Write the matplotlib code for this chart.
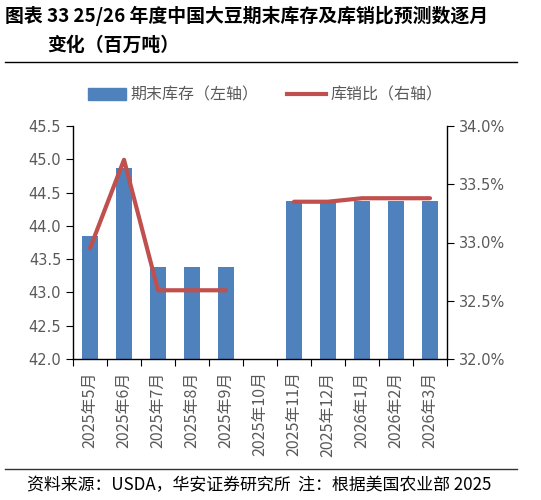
import numpy as np
import matplotlib
matplotlib.use("Agg")
import matplotlib.pyplot as plt
from matplotlib.lines import Line2D
from matplotlib.patches import Patch

plt.rcParams['font.family'] = ['Noto Sans CJK SC', 'DejaVu Sans']

categories = ["2025年5月", "2025年6月", "2025年7月", "2025年8月", "2025年9月", "2025年10月",
              "2025年11月", "2025年12月", "2026年1月", "2026年2月", "2026年3月"]
stocks = [43.85, 44.87, 43.38, 43.38, 43.38, np.nan, 44.38, 44.38, 44.38, 44.38, 44.38]
ratio = [32.95, 33.71, 32.59, 32.59, 32.59, np.nan, 33.35, 33.35, 33.38, 33.38, 33.38]
left_ticks = [42.0, 42.5, 43.0, 43.5, 44.0, 44.5, 45.0, 45.5]
right_ticks = [32.0, 32.5, 33.0, 33.5, 34.0]

W, H = 541, 500
fig = plt.figure(figsize=(W / 100, H / 100), dpi=100)
ax = fig.add_axes([73 / W, 1 - 359 / H, (447 - 73) / W, (359 - 126) / H])
ax2 = ax.twinx()

grey = "#595959"
x = np.arange(len(categories))
ax.bar(x, stocks, width=0.49, color="#4F81BD", zorder=2)
ax2.plot(x, ratio, color="#C0504D", lw=3, solid_capstyle="round", zorder=3)

ax.set_xlim(-0.5, len(categories) - 0.5)
ax.set_ylim(42.0, 45.5)
ax.set_yticks(left_ticks)
ax.set_yticklabels([f"{v:.1f}" for v in left_ticks], color=grey, fontsize=10.5,
                   family=['DejaVu Sans'])
ax2.set_ylim(32.0, 34.0)
ax2.set_yticks(right_ticks)
ax2.set_yticklabels([f"{v:.1f}%" for v in right_ticks], color=grey, fontsize=10.5,
                    family=['DejaVu Sans'])

ax.set_xticks(np.arange(len(categories) + 1) - 0.5)
ax.set_xticklabels([])
ax.set_xticks(x, minor=True)
ax.set_xticklabels(categories, minor=True, rotation=90, color=grey, fontsize=11.5)
ax.tick_params(axis="x", which="minor", length=0, pad=9)
ax.tick_params(axis="x", which="major", length=5, direction="out")
ax.tick_params(axis="y", length=5, direction="out")
ax2.tick_params(axis="y", length=5, direction="out")

for a in (ax, ax2):
    a.spines["top"].set_visible(False)
    for s in ("left", "right", "bottom"):
        a.spines[s].set_color("black")
        a.spines[s].set_linewidth(1)
ax.spines["right"].set_visible(False)
ax2.spines["left"].set_visible(False)
ax2.spines["bottom"].set_visible(False)

# Title
fig.text(5 / W, 1 - 16 / H, "图表 33 25/26 年度中国大豆期末库存及库销比预测数逐月",
         fontsize=13.6, fontweight="bold", va="center", ha="left")
fig.text(47 / W, 1 - 45 / H, "变化（百万吨）", fontsize=13.6, fontweight="bold",
         va="center", ha="left")
fig.add_artist(Line2D([5 / W, 517 / W], [1 - 62 / H, 1 - 62 / H], color="black", lw=1))
fig.add_artist(Line2D([5 / W, 517 / W], [1 - 469 / H, 1 - 469 / H], color="#333333", lw=1))

handles = [Patch(color="#4F81BD"), Line2D([0], [0], color="#C0504D", lw=3)]
fig.legend(handles, ["期末库存（左轴）", "库销比（右轴）"], loc="center",
           bbox_to_anchor=(0.49, 1 - 95 / H), ncol=2, frameon=False, fontsize=11.5,
           labelcolor=grey, handlelength=2.4, columnspacing=1.8, handletextpad=0.3)

fig.text(27 / W, 1 - 485 / H, "资料来源：USDA，华安证券研究所  注：根据美国农业部 2025",
         fontsize=12.2, va="center", ha="left")

fig.savefig("out.png", dpi=100)
